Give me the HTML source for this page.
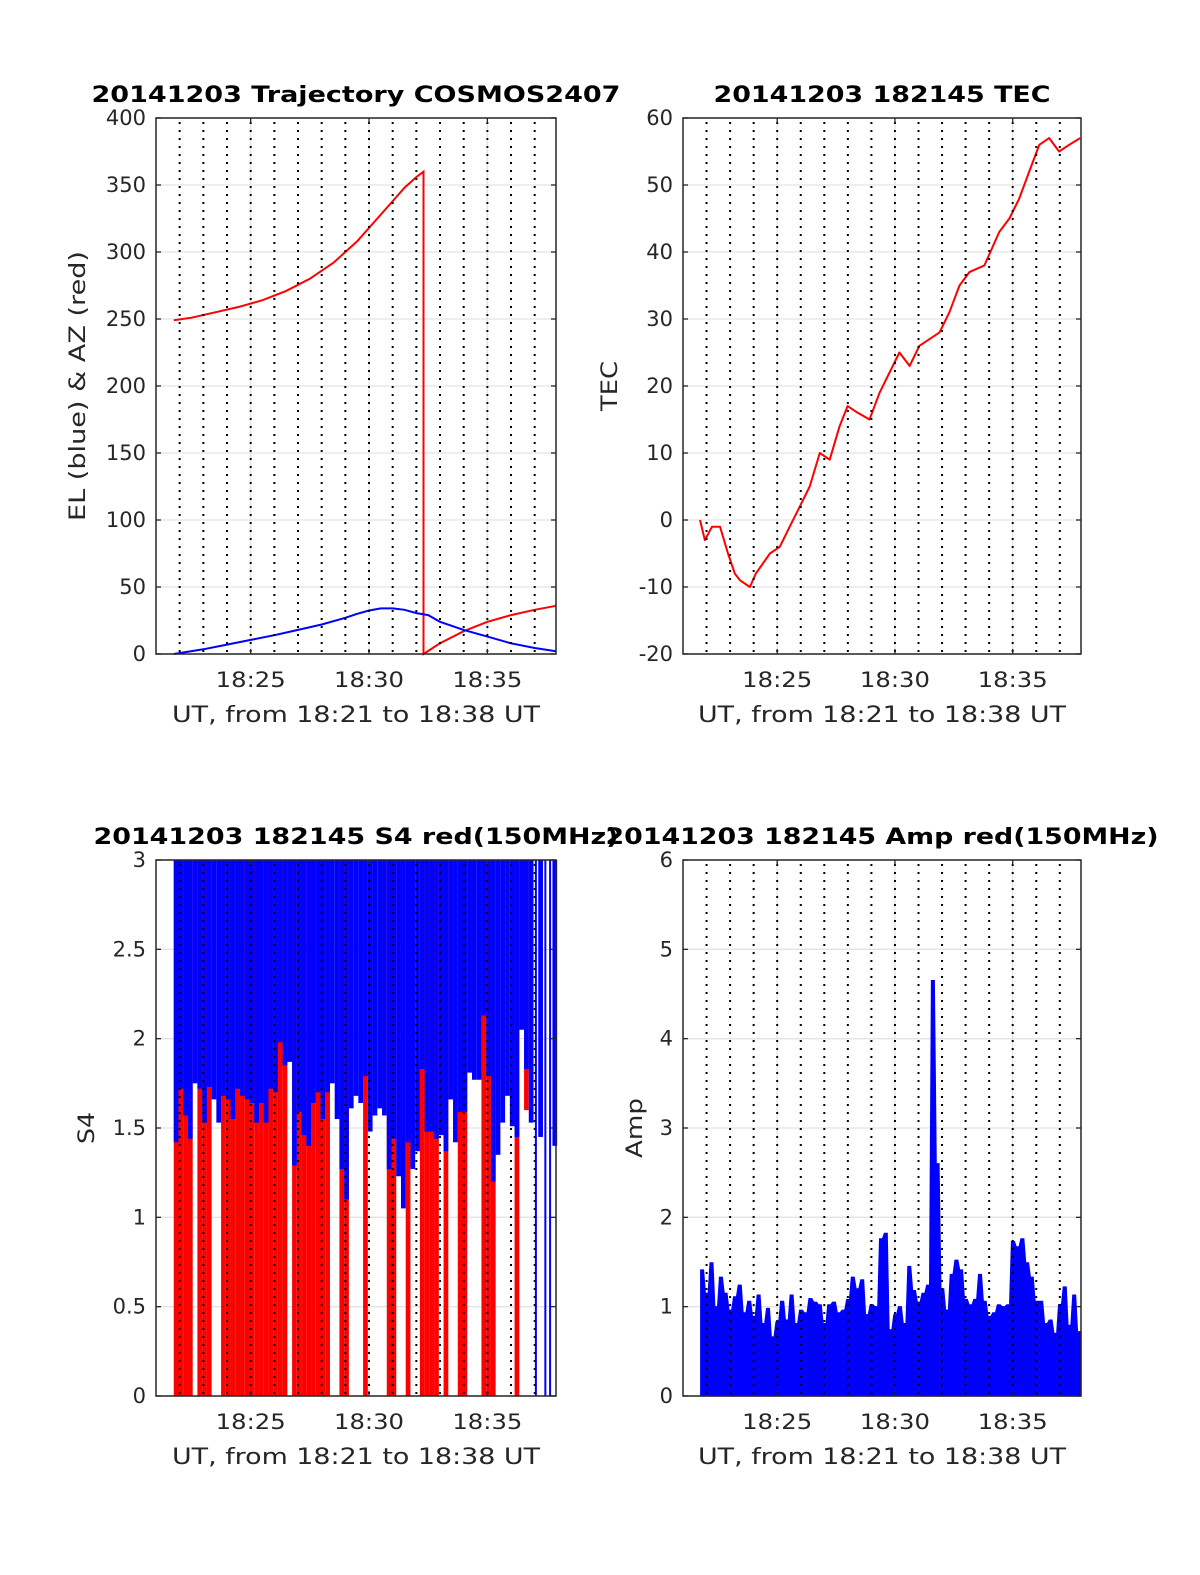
<!DOCTYPE html>
<html><head><meta charset="utf-8"><style>
html,body{margin:0;padding:0;background:#fff;}
svg{display:block;}
text{font-family:"DejaVu Sans","Liberation Sans",sans-serif;fill:#262626;}
</style></head><body>
<svg id="fig" width="1200" height="1575" viewBox="0 0 1200 1575" xmlns="http://www.w3.org/2000/svg"></svg>
<script>
// ---- data (time in minutes after 18:21) ----
const xTickLabels = ["18:25","18:30","18:35"];
const xTickTimes = [4,9,14];
const azTimes = [0.75,1.5,2.5,3.5,4.5,5.5,6.5,7.5,8.5,9,9.5,10,10.5,11,11.3,11.3,12,13,14,15,16,16.9];
const azValues = [249,251,255,259,264,271,280,292,308,318,328,338,348,356,360,0,8,17,24,29,33,36];
const elTimes = [0.75,2,3,4,5,6,7,8,8.5,9,9.5,10,10.5,11,11.5,12,13,14,15,16,16.9];
const elValues = [0,3.5,7,10.5,14,18,22,27,30,32.5,34,34,33,30.5,29,24,18,13,8,4.5,2];
const tecTimes = [0.72,0.93,1.23,1.57,1.91,2.2,2.42,2.84,3.09,3.69,4.11,4.53,4.96,5.38,5.81,6.23,6.65,6.99,7.42,7.92,8.35,8.77,9.19,9.62,10.04,10.47,10.89,11.31,11.74,12.16,12.8,13.43,13.86,14.28,14.7,15.13,15.55,15.97,16.4,16.86];
const tecValues = [0,-3,-1,-1,-5,-8,-9,-10,-8,-5,-4,-1,2,5,10,9,14,17,16,15,19,22,25,23,26,27,28,31,35,37,38,43,45,48,52,56,57,55,56,57];
const s4BinStart = 0.75;
const s4BinWidth = 0.2;
const s4BlueFloor = [1.42,1.72,1.57,1.44,1.75,1.72,1.53,1.73,1.66,1.53,1.68,1.66,1.55,1.72,1.68,1.66,1.64,1.53,1.64,1.53,1.72,1.7,1.98,1.85,1.87,1.29,1.59,1.46,1.4,1.64,1.7,1.55,1.7,1.75,1.55,1.27,1.1,1.61,1.68,1.64,1.79,1.48,1.57,1.61,1.57,1.27,1.44,1.23,1.05,1.42,1.27,1.37,1.83,1.48,1.48,1.44,1.46,1.37,1.66,1.42,1.59,1.59,1.81,1.77,1.77,2.13,1.79,1.2,1.35,1.53,1.68,1.51,1.45,2.05,1.83,1.53,0,1.45,0,0,1.4];
const s4RedFloor = [0,0,0,0,3,0,0,0,3,3,0,0,0,0,0,0,0,0,0,0,0,0,0,0,3,0,0,0,0,0,0,0,0,3,3,0,0,3,3,3,0,3,3,3,3,0,0,3,3,0,3,3,0,0,0,0,3,0,3,3,0,0,3,3,3,0,0,0,3,3,3,3,0,3,1.6,3,3,3,3,3,3];
const ampBinStart = 0.75;
const ampBinWidth = 0.2;
const ampValues = [1.41,1.15,1.49,1.0,1.33,1.15,0.96,1.11,1.24,0.93,1.06,0.89,1.13,0.81,0.98,0.66,0.83,1.06,0.85,1.13,0.81,0.96,0.93,1.09,1.05,1.02,0.81,1.02,1.05,0.93,0.96,1.08,1.33,1.2,1.3,0.91,1.02,1.0,1.76,1.82,0.74,0.91,1.0,0.81,1.45,1.18,1.05,1.15,1.24,4.65,2.6,1.2,0.96,1.36,1.52,1.41,1.08,1.02,1.08,1.36,1.06,0.89,0.93,1.02,1.0,1.02,1.73,1.67,1.76,1.49,1.33,1.06,1.06,0.81,0.85,0.7,1.02,1.22,0.79,1.13,0.72];

const NS="http://www.w3.org/2000/svg";
const svg=document.getElementById('fig');
const TMAX=16.9;
function mk(tag,attrs,parent){const e=document.createElementNS(NS,tag);for(const k in attrs)e.setAttribute(k,attrs[k]);(parent||svg).appendChild(e);return e;}
function txt(s,attrs,parent){const e=mk('text',attrs,parent);e.textContent=s;return e;}

function makePanel(name,L,T,W,H,ymin,ymax,yticks,ylabels,title,titleLen,ylab,ylabLen,ylabX){
  const g=mk('g',{});
  
  
  const P={L,T,W,H,g,
    x:t=>L+t*W/TMAX,
    y:v=>T+H-(v-ymin)/(ymax-ymin)*H};
  const grid=mk('g',{},g);
  
  
  yticks.forEach(v=>{mk('line',{x1:L,x2:L+W,y1:P.y(v),y2:P.y(v),stroke:'#e3e3e3','stroke-width':1.3},grid);});
  xTickTimes.forEach(t=>{mk('line',{x1:P.x(t),x2:P.x(t),y1:T,y2:T+H,stroke:'#e3e3e3','stroke-width':1.3},grid);});
  P.data=mk('g',{},g);
  
  
  P.finish=function(){
    const dots=mk('g',{},g);
    
    
    for(let m=1;m<=16;m++){mk('line',{x1:P.x(m),x2:P.x(m),y1:T+4,y2:T+H,stroke:'#000','stroke-width':2,'stroke-dasharray':'2,6'},dots);}
    const ax=mk('g',{},g);
    
    
    mk('rect',{x:L,y:T,width:W,height:H,fill:'none',stroke:'#262626','stroke-width':1.5},ax);
    yticks.forEach((v,i)=>{
      const yy=P.y(v);
      mk('line',{x1:L,x2:L+5,y1:yy,y2:yy,stroke:'#262626','stroke-width':1.3},ax);
      mk('line',{x1:L+W-5,x2:L+W,y1:yy,y2:yy,stroke:'#262626','stroke-width':1.3},ax);
      const lab=txt(ylabels[i],{x:L-10,y:yy+7,'text-anchor':'end','font-size':21},ax);
      
      
    });
    xTickTimes.forEach((t,i)=>{
      const xx=P.x(t);
      mk('line',{x1:xx,x2:xx,y1:T+H-5,y2:T+H,stroke:'#262626','stroke-width':1.3},ax);
      mk('line',{x1:xx,x2:xx,y1:T,y2:T+5,stroke:'#262626','stroke-width':1.3},ax);
      const lab=txt(xTickLabels[i],{x:xx,y:T+H+33,'text-anchor':'middle','font-size':21,textLength:70,lengthAdjust:'spacingAndGlyphs'},ax);
      
      
    });
    const xl=txt('UT, from 18:21 to 18:38 UT',{x:L+W/2,y:T+H+68,'text-anchor':'middle','font-size':22,textLength:368,lengthAdjust:'spacingAndGlyphs'},g);
    
    
    const tl=txt(title,{x:L+W/2,y:T-16,'text-anchor':'middle','font-size':22,'font-weight':'bold',textLength:titleLen,lengthAdjust:'spacingAndGlyphs'},g);
    tl.style.fill='#000';
    
    
    const cy=T+H/2;
    const yl=txt(ylab,{x:ylabX,y:cy,'text-anchor':'middle','font-size':22,transform:`rotate(-90 ${ylabX} ${cy})`,textLength:ylabLen,lengthAdjust:'spacingAndGlyphs'},g);
    
    
  };
  return P;
}
function pts(P,ts,vs){return ts.map((t,i)=>P.x(t).toFixed(1)+','+P.y(vs[i]).toFixed(1)).join(' ');}

// Panel 1: trajectory
const p1=makePanel('trajectory-panel',156,118,400,536,0,400,[0,50,100,150,200,250,300,350,400],["0","50","100","150","200","250","300","350","400"],'20141203 Trajectory COSMOS2407',529,'EL (blue) & AZ (red)',270,85);
const az=mk('polyline',{points:pts(p1,azTimes,azValues),fill:'none',stroke:'#ff0000','stroke-width':2},p1.data);


const el=mk('polyline',{points:pts(p1,elTimes,elValues),fill:'none',stroke:'#0000ff','stroke-width':2},p1.data);


p1.finish();

// Panel 2: TEC
const p2=makePanel('tec-panel',683,118,398,536,-20,60,[-20,-10,0,10,20,30,40,50,60],["-20","-10","0","10","20","30","40","50","60"],'20141203 182145 TEC',337,'TEC',50,617);
const tec=mk('polyline',{points:pts(p2,tecTimes,tecValues),fill:'none',stroke:'#ff0000','stroke-width':2,'stroke-linejoin':'round'},p2.data);


p2.finish();

// Panel 3: S4
const p3=makePanel('s4-panel',156,860,400,536,0,3,[0,0.5,1,1.5,2,2.5,3],["0","0.5","1","1.5","2","2.5","3"],'20141203 182145 S4 red(150MHz)',525,'S4',32,94);
s4RedFloor.forEach((v,i)=>{
  if(v>=3)return;
  const t0=s4BinStart+i*s4BinWidth;
  const x0=p3.x(t0),x1=p3.x(t0+s4BinWidth);
  const r=mk('rect',{x:x0,y:p3.y(3),width:x1-x0,height:p3.y(v)-p3.y(3),fill:'#ff0000'},p3.data);
  
  
});
s4BlueFloor.forEach((v,i)=>{
  const t0=s4BinStart+i*s4BinWidth;
  const x0=p3.x(t0),x1=p3.x(t0+s4BinWidth);
  const w=v===0?2:(x1-x0);
  const xs=v===0?(x0+x1)/2-1:x0;
  const r=mk('rect',{x:xs,y:p3.y(3),width:w,height:p3.y(v)-p3.y(3),fill:'#0000ff'},p3.data);
  
  
});
p3.finish();

// Panel 4: Amp
const p4=makePanel('amp-panel',683,860,398,536,0,6,[0,1,2,3,4,5,6],["0","1","2","3","4","5","6"],'20141203 182145 Amp red(150MHz)',553,'Amp',60,642);
let ad='M'+p4.x(ampBinStart).toFixed(1)+','+p4.y(0).toFixed(1);
ampValues.forEach((v,i)=>{
  const t0=ampBinStart+i*ampBinWidth;
  ad+=' L'+p4.x(t0).toFixed(1)+','+p4.y(v).toFixed(1)+' L'+p4.x(t0+ampBinWidth*0.6).toFixed(1)+','+p4.y(v).toFixed(1);
});
ad+=' L'+p4.x(TMAX).toFixed(1)+','+p4.y(ampValues[ampValues.length-1]).toFixed(1)+' L'+p4.x(TMAX).toFixed(1)+','+p4.y(0).toFixed(1)+' Z';
const amp=mk('path',{d:ad,fill:'#0000ff',stroke:'#0000ff','stroke-width':1.2},p4.data);


p4.finish();
</script>
</body></html>
